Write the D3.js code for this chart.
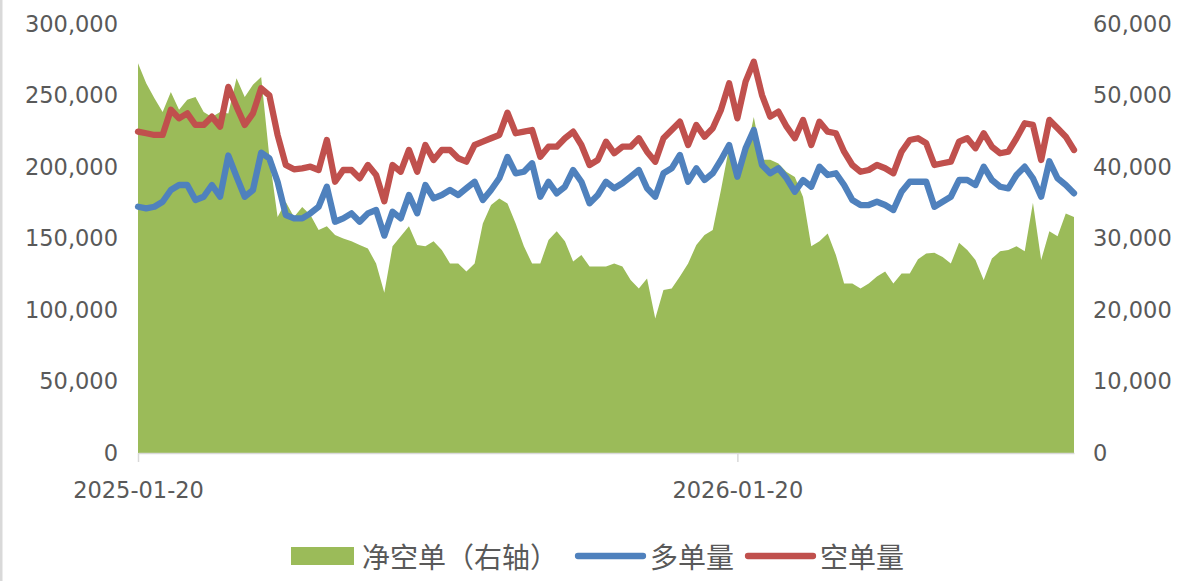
<!DOCTYPE html>
<html>
<head>
<meta charset="utf-8">
<script src="https://cdn.jsdelivr.net/npm/d3@7/dist/d3.min.js"></script>
<style>
  html, body { margin: 0; padding: 0; background: #fff; }
  svg { display: block; }
</style>
</head>
<body>
<svg id="chart" width="1184" height="581"></svg>
<script>
// ---------------- DATA ----------------
const startDate = "2025-01-20";
const stepDays = 5;
const xTickLabels = ["2025-01-20", "2026-01-20"];
const leftTicks = [0, 50000, 100000, 150000, 200000, 250000, 300000];
const rightTicks = [0, 10000, 20000, 30000, 40000, 50000, 60000];
const seriesNames = ["净空单（右轴）", "多单量", "空单量"];

// 空单量 (left axis)
const shortVol = [
224700,223600,222400,222400,240000,234000,237500,229400,229400,235200,
228200,256000,242200,229400,237500,255000,250000,222400,201400,198400,
199100,200200,197900,218900,189700,197900,197900,192100,201400,194400,
176000,201400,196700,211900,196700,215400,204900,211900,211900,206100,
203700,215400,217700,220100,222400,238000,223600,224700,225900,207200,
214200,214200,220100,224700,215400,201400,204900,217700,209600,214200,
214200,220100,210700,203700,220100,225900,231700,215400,229400,221200,
227100,239900,258500,234000,259700,273600,250300,235200,238700,228200,
220100,232900,215400,231700,224700,223600,210700,201400,196700,197900,
201400,199100,195600,210700,218900,220100,216600,201400,202600,203700,
217700,220100,213100,223600,214200,209600,210700,220100,230600,229400,
204900,232900,227100,221200,211900
];

// 多单量 (left axis)
const longVol = [
172200,171100,172200,175700,183900,187400,187400,176900,179200,187400,
179200,208000,193200,179200,183900,210000,206000,189700,166400,164100,
164100,167600,172200,186200,161700,164100,167600,161700,167600,169900,
152000,168700,164100,180400,167600,187400,178100,180400,183900,180400,
185100,189700,176900,183900,192100,207000,195600,196700,202600,179200,
189700,181600,186200,197900,189700,174600,180400,189700,185100,188600,
193200,197900,185100,179200,195600,199100,208400,189700,199100,190900,
195600,204900,215400,193200,213100,225900,201400,195600,199100,192100,
182700,190900,186200,200200,194400,195600,187400,176900,173400,173400,
175700,173400,169900,182700,189700,189700,189700,172200,175700,179200,
190900,190900,187400,200200,190900,186200,185100,194400,200200,192100,
179200,204000,192100,187400,181600
];

// 净空单 (right axis)
const netShort = [
54500,51700,49600,47700,50500,48000,49400,49800,47700,47000,
47700,47500,52400,49800,51500,52600,41400,33000,35100,33000,
34400,33300,31200,31700,30500,30000,29600,29100,28600,26500,
22400,28900,30300,31700,29100,28900,29600,28400,26500,26500,
25400,26500,32100,34700,35600,34900,32100,28900,26500,26500,
29800,31000,29600,26800,27700,26100,26100,26100,26500,26100,
24200,23000,24400,18800,22800,23000,24700,26500,29100,30500,
31200,36800,42800,38200,41400,47000,41000,41000,40500,39300,
38600,35800,28900,29600,30700,27700,23700,23700,23000,23700,
24700,25400,23700,25100,25100,27100,27900,28000,27400,26500,
29400,28400,27000,24200,27200,28200,28400,28900,28200,35000,
27000,31000,30300,33500,33000
];

// ---------------- CHART ----------------
const parse = d3.timeParse("%Y-%m-%d");
const fmtDate = d3.timeFormat("%Y-%m-%d");
const t0 = parse(startDate);
const dates = shortVol.map((_, i) => d3.timeDay.offset(t0, i * stepDays));

const svg = d3.select("#chart");
const W = 1184, H = 581;
const plot = { left: 138, right: 1074, top: 24, bottom: 453 };

const colors = { net: "#9BBB59", long: "#4F81BD", short: "#C0504D" };
const textColor = "#595959";
const axisColor = "#D9D9D9";
const numFont = "'DejaVu Sans', sans-serif";
const cjkFont = "'Noto Sans CJK SC', 'Noto Sans', sans-serif";
const lw = 6.3;

// left border of chart frame
svg.append("rect").attr("x", 0).attr("y", 0).attr("width", 2.5).attr("height", H).attr("fill", axisColor);

const x = d3.scaleTime().domain([dates[0], dates[dates.length - 1]]).range([plot.left, plot.right]);
const yL = d3.scaleLinear().domain([0, 300000]).range([plot.bottom, plot.top]);
const yR = d3.scaleLinear().domain([0, 60000]).range([plot.bottom, plot.top]);

// Area (net short, right axis)
const area = d3.area()
  .x((d, i) => x(dates[i]))
  .y0(yR(0))
  .y1(d => yR(d));
svg.append("path").datum(netShort).attr("d", area).attr("fill", colors.net);

// Lines
const lineL = d3.line().x((d, i) => x(dates[i])).y(d => yL(d));
svg.append("path").datum(longVol).attr("d", lineL)
  .attr("fill", "none").attr("stroke", colors.long).attr("stroke-width", lw)
  .attr("stroke-linejoin", "round").attr("stroke-linecap", "round");
svg.append("path").datum(shortVol).attr("d", lineL)
  .attr("fill", "none").attr("stroke", colors.short).attr("stroke-width", lw)
  .attr("stroke-linejoin", "round").attr("stroke-linecap", "round");

// X axis
const xAxis = d3.axisBottom(x)
  .tickValues(xTickLabels.map(parse))
  .tickFormat(fmtDate)
  .tickSize(9)
  .tickSizeOuter(0)
  .tickPadding(20);
const gx = svg.append("g").attr("transform", `translate(0,${plot.bottom})`).call(xAxis);
gx.select(".domain").attr("stroke", axisColor).attr("stroke-width", 1.5);
gx.selectAll(".tick line").attr("stroke", axisColor).attr("stroke-width", 1.5);
gx.selectAll(".tick text").attr("fill", textColor).style("font-family", numFont).style("font-size", "22.5px");

// Left Y axis
const fmtNum = d3.format(",");
const yAxisL = d3.axisLeft(yL).tickValues(leftTicks).tickFormat(fmtNum).tickSize(0).tickPadding(20);
const gyl = svg.append("g").attr("transform", `translate(${plot.left},0)`).call(yAxisL);
gyl.select(".domain").remove();
gyl.selectAll(".tick text").attr("fill", textColor).style("font-family", numFont).style("font-size", "22.5px");

// Right Y axis
const yAxisR = d3.axisRight(yR).tickValues(rightTicks).tickFormat(fmtNum).tickSize(0).tickPadding(19);
const gyr = svg.append("g").attr("transform", `translate(${plot.right},0)`).call(yAxisR);
gyr.select(".domain").remove();
gyr.selectAll(".tick text").attr("fill", textColor).style("font-family", numFont).style("font-size", "22.5px");

// Legend
const legY = 556;
const leg = svg.append("g");
leg.append("rect").attr("x", 291).attr("y", 547).attr("width", 63).attr("height", 18).attr("fill", colors.net);
leg.append("text").attr("x", 362).attr("y", legY).attr("dominant-baseline", "central")
  .attr("fill", textColor).style("font-family", cjkFont).style("font-size", "28px").text(seriesNames[0]);
leg.append("line").attr("x1", 578).attr("x2", 643).attr("y1", legY).attr("y2", legY)
  .attr("stroke", colors.long).attr("stroke-width", lw).attr("stroke-linecap", "round");
leg.append("text").attr("x", 650).attr("y", legY).attr("dominant-baseline", "central")
  .attr("fill", textColor).style("font-family", cjkFont).style("font-size", "28px").text(seriesNames[1]);
leg.append("line").attr("x1", 748).attr("x2", 813).attr("y1", legY).attr("y2", legY)
  .attr("stroke", colors.short).attr("stroke-width", lw).attr("stroke-linecap", "round");
leg.append("text").attr("x", 820).attr("y", legY).attr("dominant-baseline", "central")
  .attr("fill", textColor).style("font-family", cjkFont).style("font-size", "28px").text(seriesNames[2]);
</script>
</body>
</html>
